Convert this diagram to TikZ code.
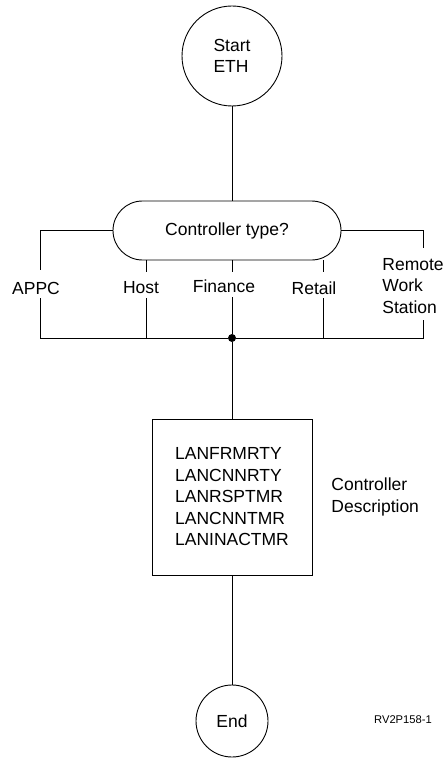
\documentclass[tikz,border=0pt]{standalone}
\usepackage{fontspec}
\setmainfont{Liberation Sans}
\usetikzlibrary{shapes.misc}

\begin{document}
\begin{tikzpicture}[x=1pt, y=-1pt, line width=0.9pt,
        txt/.style={font=\fontsize{17.5}{21.5}\selectfont, inner sep=0pt, align=left}]
        \useasboundingbox (0,0) rectangle (446,759);

        \node[circle, draw, minimum size=100pt, txt] (start) at (232, 56) {Start\\ETH};
        \node[rounded rectangle, draw, minimum width=228pt, minimum height=59pt, txt] (dec) at (227, 230.5) {Controller type?};
        \node[circle, fill, inner sep=0pt, minimum size=8pt] (junc) at (232, 338) {};
        \node[rectangle, draw, minimum width=160pt, minimum height=156pt, txt] (desc) at (232, 497)
            {LANFRMRTY\\LANCNNRTY\\LANRSPTMR\\LANCNNTMR\\LANINACTMR};
        \node[circle, draw, minimum size=72pt, txt] (end) at (232, 721) {End};

        \node[txt] (appc) at (36, 288) {APPC};
        \node[txt] (host) at (141, 288) {Host};
        \node[txt] (fin) at (224, 286) {Finance};
        \node[txt] (retail) at (314, 288) {Retail};
        \node[txt, anchor=west] (remote) at (382, 286) {Remote\\Work\\Station};
        \node[txt, anchor=west] (cdesc) at (331, 497) {Controller\\Description};
        \node[txt, font=\fontsize{11.2}{13}\selectfont] (fig) at (403, 720) {RV2P158-1};

        % gaps round the branch labels
        \coordinate (appcT) at (40, 270);
        \coordinate (appcB) at (40, 298);
        \coordinate (hostT) at (146, 272);
        \coordinate (hostB) at (146, 298);
        \coordinate (finT) at (232, 272);
        \coordinate (finB) at (232, 297);
        \coordinate (retT) at (323, 272);
        \coordinate (retB) at (323, 298);
        \coordinate (remT) at (423, 248);
        \coordinate (remB) at (423, 320);

        \draw (start) -- (start.south |- dec.north);
        \draw (dec.west) -| (appcT);
        \draw (dec.east) -| (remT);
        \draw (hostT |- dec.south) -- (hostT);
        \draw (finT |- dec.south) -- (finT);
        \draw (retT |- dec.south) -- (retT);

        \draw (appcB) |- (junc) -| (remB);
        \draw (hostB) -- (hostB |- junc);
        \draw (finB) -- (junc);
        \draw (retB) -- (retB |- junc);

        \draw (junc) -- (desc);
        \draw (desc) -- (end);
\end{tikzpicture}
\end{document}
